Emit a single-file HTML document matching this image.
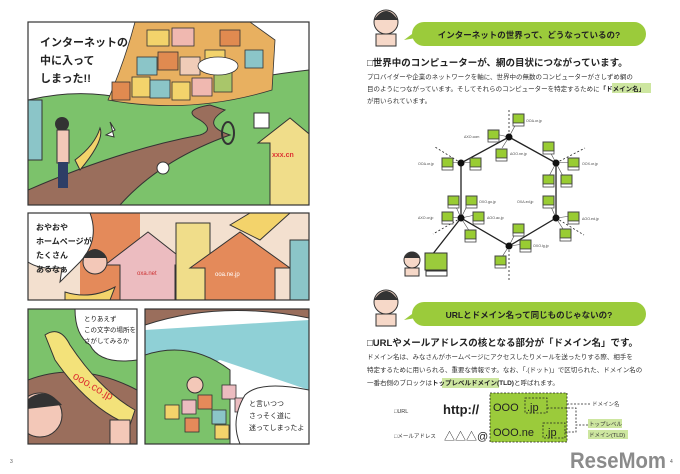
<!DOCTYPE html>
<html><head><meta charset="utf-8"><style>
html,body{margin:0;padding:0;background:#fff;width:680px;height:474px;overflow:hidden}
svg{display:block}
text{font-family:"Liberation Sans","Noto Sans CJK JP",sans-serif}
</style></head><body>
<svg width="680" height="474" viewBox="0 0 680 474" xmlns="http://www.w3.org/2000/svg">
<defs>
<clipPath id="p1"><rect x="28" y="22" width="281" height="183"/></clipPath>
<clipPath id="p2"><rect x="28" y="213" width="281" height="87"/></clipPath>
<clipPath id="p3"><rect x="28" y="309" width="109" height="135"/></clipPath>
<clipPath id="p4"><rect x="145" y="309" width="164" height="135"/></clipPath>
<g id="pc"><rect x="0" y="0" width="11" height="9" fill="#9c3" stroke="#444" stroke-width="1"/><rect x="0" y="9" width="11" height="3" fill="#fff" stroke="#444" stroke-width="0.8"/></g>
</defs>

<!-- Panel 1 -->
<g clip-path="url(#p1)">
<rect x="28" y="22" width="281" height="183" fill="#fff"/>
<path d="M28 100 Q90 85 150 105 Q220 80 309 70 L309 205 L28 205Z" fill="#7cc26b" stroke="#333" stroke-width="1"/>
<path d="M28 190 Q120 150 200 135 Q215 130 200 120 Q180 110 210 105 L225 110 Q200 125 230 135 Q160 160 120 205 L28 205Z" fill="#9a6e5c" stroke="#333" stroke-width="1"/>
<g stroke="#333" stroke-width="0.8">
<path d="M135 22 L250 22 L275 40 L272 90 Q190 115 108 100 Q125 60 135 22 Z" fill="#e8b060"/>
<rect x="112" y="82" width="18" height="18" fill="#e08a50"/><rect x="132" y="77" width="18" height="20" fill="#f3d36b"/>
<rect x="150" y="80" width="20" height="18" fill="#8bc5c8"/><rect x="172" y="82" width="18" height="18" fill="#f3d36b"/>
<rect x="192" y="78" width="20" height="18" fill="#f0b8b0"/><rect x="214" y="72" width="18" height="20" fill="#a9c66a"/>
<rect x="137" y="57" width="20" height="18" fill="#8bc5c8"/><rect x="158" y="52" width="20" height="18" fill="#e08a50"/>
<rect x="180" y="57" width="20" height="18" fill="#f0ccb8"/><rect x="205" y="50" width="20" height="18" fill="#f3d36b"/>
<rect x="147" y="30" width="22" height="16" fill="#f3d36b"/><rect x="172" y="28" width="22" height="18" fill="#f0b8b0"/>
<rect x="220" y="30" width="20" height="16" fill="#e08a50"/><rect x="245" y="50" width="18" height="18" fill="#8bc5c8"/>
<ellipse cx="218" cy="66" rx="20" ry="9" fill="#fff"/>
</g>
<path d="M258 143 L290 118 L320 143 L309 143 L309 205 L270 205 L270 143Z" fill="#f0dd8a" stroke="#333"/>
<text x="272" y="157" font-size="7" fill="#d33" font-weight="bold">xxx.cn</text>
<rect x="28" y="100" width="14" height="60" fill="#8bc5c8" stroke="#333"/>
<circle cx="163" cy="168" r="6" fill="#fff" stroke="#333"/>
<rect x="254" y="113" width="15" height="15" fill="#fff" stroke="#333"/>
<ellipse cx="228" cy="133" rx="6" ry="11" fill="none" stroke="#333" stroke-width="2"/>
<polygon points="110,122 115,130 106,135 114,137 111,125" fill="#fff" stroke="#333"/>
<circle cx="62" cy="124" r="7" fill="#333"/>
<rect x="57" y="130" width="12" height="33" fill="#f3c8b8" stroke="#333"/>
<rect x="58" y="162" width="10" height="26" fill="#2d3e66"/>
<path d="M75 160 Q95 145 100 128 Q105 140 80 170Z" fill="#f3d36b" stroke="#333"/>
</g>
<rect x="28" y="22" width="281" height="183" fill="none" stroke="#333" stroke-width="1.2"/>
<text x="40" y="46" font-size="11" font-weight="bold" fill="#222">インターネットの</text>
<text x="40" y="64" font-size="11" font-weight="bold" fill="#222">中に入って</text>
<text x="40" y="82" font-size="11" font-weight="bold" fill="#222">しまった!!</text>

<!-- Panel 2 -->
<g clip-path="url(#p2)">
<rect x="28" y="213" width="281" height="87" fill="#f3e0cf"/>
<path d="M80 300 L80 213 L140 213 L140 300Z" fill="#e48a5a"/>
<polygon points="120,300 120,265 105,265 148,232 190,265 175,265 175,300" fill="#ecbcc0" stroke="#333"/>
<rect x="176" y="223" width="34" height="77" fill="#f0dd8a" stroke="#333"/>
<polygon points="205,300 205,268 190,268 240,232 290,268 275,268 275,300" fill="#e48a5a" stroke="#333"/>
<polygon points="230,225 250,213 290,213 260,240" fill="#f3d36b" stroke="#333"/>
<rect x="290" y="240" width="20" height="60" fill="#8bc5c8" stroke="#333"/>
<text x="137" y="275" font-size="6" fill="#c33">oxa.net</text>
<text x="215" y="276" font-size="6" fill="#fff">ooa.ne.jp</text>
<path d="M28 213 L90 213 Q100 240 80 262 L60 282 L62 268 Q40 270 28 262Z" fill="#fff" stroke="#333"/>
<circle cx="95" cy="262" r="12" fill="#f3c8b8" stroke="#333"/>
<path d="M83 258 Q95 240 107 258Z" fill="#333"/>
<path d="M65 292 Q90 300 115 287 L110 300 L65 300Z" fill="#f3d36b" stroke="#333"/>
</g>
<rect x="28" y="213" width="281" height="87" fill="none" stroke="#333" stroke-width="1.2"/>
<g font-size="8" fill="#222" font-weight="bold">
<text x="36" y="230">おやおや</text><text x="36" y="244">ホームページが</text><text x="36" y="258">たくさん</text><text x="36" y="272">あるなぁ</text></g>

<!-- Panel 3 -->
<g clip-path="url(#p3)">
<rect x="28" y="309" width="109" height="135" fill="#7cc26b"/>
<path d="M28 380 Q80 360 137 390 L137 444 L28 444Z" fill="#9a6e5c" stroke="#333"/>
<path d="M75 309 L137 309 L137 360 Q100 365 90 345 Q75 335 75 309Z" fill="#fff" stroke="#333"/>
<path d="M45 335 Q60 325 70 345 Q100 390 135 410 L130 425 Q90 410 55 360Z" fill="#f3e27a" stroke="#333"/>
<circle cx="40" cy="415" r="22" fill="#f3c8b8" stroke="#333"/>
<path d="M18 410 Q40 380 62 405Z" fill="#333"/>
<rect x="110" y="420" width="20" height="24" fill="#f3c8b8" stroke="#333"/>
</g>
<rect x="28" y="309" width="109" height="135" fill="none" stroke="#333" stroke-width="1.2"/>
<text x="72" y="378" font-size="11" fill="#d33" transform="rotate(30 72 378)">ooo.co.jp</text>
<g font-size="6.5" fill="#222"><text x="84" y="321">とりあえず</text><text x="84" y="332">この文字の場所を</text><text x="84" y="343">さがしてみるか</text></g>

<!-- Panel 4 -->
<g clip-path="url(#p4)">
<rect x="145" y="309" width="164" height="135" fill="#fff"/>
<path d="M145 330 L309 320 L309 390 L220 360 L180 375 L145 360Z" fill="#8fd0d6"/>
<path d="M145 325 Q220 300 309 318 L309 309 L145 309Z" fill="#9a6e5c" stroke="#333"/>
<path d="M145 355 Q190 340 230 370 L230 444 L145 444Z" fill="#7cc26b" stroke="#333"/>
<g stroke="#333" stroke-width="0.8">
<rect x="165" y="405" width="14" height="14" fill="#f3d36b"/><rect x="182" y="400" width="14" height="14" fill="#ecbcc0"/>
<rect x="198" y="395" width="14" height="14" fill="#e48a5a"/><rect x="212" y="410" width="14" height="14" fill="#8bc5c8"/>
<rect x="185" y="418" width="14" height="14" fill="#e48a5a"/><rect x="215" y="425" width="14" height="14" fill="#f3d36b"/>
<rect x="222" y="385" width="14" height="14" fill="#ecbcc0"/><rect x="235" y="398" width="14" height="14" fill="#ecbcc0"/>
</g>
<path d="M245 395 Q260 380 309 390 L309 444 L240 444 Q230 420 245 395Z" fill="#fff" stroke="#333"/>
<circle cx="195" cy="385" r="8" fill="#f3c8b8" stroke="#333"/>
</g>
<rect x="145" y="309" width="164" height="135" fill="none" stroke="#333" stroke-width="1.2"/>
<g font-size="7" fill="#222"><text x="249" y="406">と言いつつ</text><text x="249" y="418">さっそく道に</text><text x="249" y="430">迷ってしまったよ</text></g>
<text x="10" y="463" font-size="5" fill="#555">3</text>

<!-- Right page -->
<circle cx="386" cy="22" r="12" fill="#f6d8c8" stroke="#333"/>
<path d="M374 20 Q386 2 398 20Z" fill="#333"/>
<rect x="376" y="34" width="20" height="12" fill="#f6d8c8" stroke="#333"/>
<rect x="412" y="22" width="234" height="24" rx="12" fill="#9bcb3b"/>
<polygon points="412,34 404,40 416,38" fill="#9bcb3b"/>
<text x="529" y="38" font-size="8.5" font-weight="bold" text-anchor="middle" fill="#222">インターネットの世界って、どうなっているの?</text>
<text x="367" y="66" font-size="9.5" font-weight="bold" fill="#222">□世界中のコンピューターが、網の目状につながっています。</text>
<rect x="612" y="83" width="39" height="10" fill="#cde6a0"/>
<g font-size="6.5" fill="#333">
<text x="367" y="79">プロバイダーや企業のネットワークを軸に、世界中の無数のコンピューターがさしずめ網の</text>
<text x="367" y="91">目のようにつながっています。そしてそれらのコンピューターを特定するために<tspan fill="#222" font-weight="bold">「ドメイン名」</tspan></text>
<text x="367" y="103">が用いられています。</text></g>

<!-- network -->
<g stroke="#222" stroke-width="1.3" fill="none">
<polygon points="509,137 556,163 556,218 509,246 461,218 461,163"/>
<line x1="461" y1="218" x2="432" y2="255"/>
</g>
<g stroke="#222" stroke-width="0.8" stroke-dasharray="2,2">
<line x1="509" y1="110" x2="509" y2="137"/><line x1="509" y1="246" x2="509" y2="280"/>
<line x1="461" y1="163" x2="435" y2="147"/><line x1="556" y1="163" x2="585" y2="148"/>
<line x1="461" y1="218" x2="433" y2="234"/><line x1="556" y1="218" x2="584" y2="235"/>
</g>
<g stroke="#444" stroke-width="0.6">
<line x1="509" y1="137" x2="518" y2="120"/><line x1="509" y1="137" x2="495" y2="134"/><line x1="509" y1="137" x2="502" y2="148"/>
<line x1="461" y1="163" x2="447" y2="162"/><line x1="461" y1="163" x2="475" y2="162"/>
<line x1="556" y1="163" x2="548" y2="148"/><line x1="556" y1="163" x2="571" y2="162"/><line x1="556" y1="163" x2="548" y2="178"/><line x1="556" y1="163" x2="564" y2="178"/>
<line x1="461" y1="218" x2="453" y2="200"/><line x1="461" y1="218" x2="470" y2="200"/><line x1="461" y1="218" x2="447" y2="217"/><line x1="461" y1="218" x2="475" y2="215"/><line x1="461" y1="218" x2="470" y2="232"/>
<line x1="556" y1="218" x2="548" y2="200"/><line x1="556" y1="218" x2="571" y2="216"/><line x1="556" y1="218" x2="565" y2="232"/>
<line x1="509" y1="246" x2="518" y2="228"/><line x1="509" y1="246" x2="524" y2="244"/><line x1="509" y1="246" x2="500" y2="260"/>
</g>
<g fill="#111">
<circle cx="509" cy="137" r="3.5"/><circle cx="556" cy="163" r="3.5"/><circle cx="556" cy="218" r="3.5"/>
<circle cx="509" cy="246" r="3.5"/><circle cx="461" cy="218" r="3.5"/><circle cx="461" cy="163" r="3.5"/></g>
<use href="#pc" x="513" y="114"/><use href="#pc" x="488" y="130"/><use href="#pc" x="496" y="149"/>
<use href="#pc" x="442" y="158"/><use href="#pc" x="470" y="158"/>
<use href="#pc" x="543" y="142"/><use href="#pc" x="568" y="158"/><use href="#pc" x="543" y="175"/><use href="#pc" x="561" y="175"/>
<use href="#pc" x="448" y="196"/><use href="#pc" x="466" y="196"/><use href="#pc" x="442" y="212"/><use href="#pc" x="473" y="212"/><use href="#pc" x="465" y="230"/>
<use href="#pc" x="543" y="196"/><use href="#pc" x="568" y="212"/><use href="#pc" x="560" y="229"/>
<use href="#pc" x="513" y="224"/><use href="#pc" x="520" y="240"/><use href="#pc" x="495" y="256"/>
<g font-size="3.6" fill="#444">
<text x="526" y="122">OOΔ.or.jp</text><text x="464" y="138">ΔXO.com</text><text x="510" y="155">ΔOO.ne.jp</text>
<text x="418" y="165">OOΔ.or.jp</text><text x="582" y="165">OOX.or.jp</text>
<text x="479" y="203">OXO.go.jp</text><text x="418" y="219">ΔXO.or.jp</text><text x="487" y="219">ΔOO.ac.jp</text>
<text x="517" y="203">OXΔ.ed.jp</text><text x="582" y="220">ΔOO.ed.jp</text><text x="533" y="247">OXO.lg.jp</text></g>
<circle cx="412" cy="260" r="8" fill="#f6d8c8" stroke="#333"/>
<path d="M404 258 Q412 246 420 258Z" fill="#333"/>
<rect x="405" y="268" width="14" height="8" fill="#f6d8c8" stroke="#333"/>
<rect x="425" y="253" width="22" height="17" fill="#9bcb3b" stroke="#333"/>
<rect x="426" y="271" width="21" height="5" fill="#fff" stroke="#333"/>

<!-- section 2 -->
<circle cx="386" cy="302" r="12" fill="#f6d8c8" stroke="#333"/>
<path d="M374 300 Q386 282 398 300Z" fill="#333"/>
<rect x="376" y="314" width="20" height="12" fill="#f6d8c8" stroke="#333"/>
<rect x="412" y="302" width="234" height="24" rx="12" fill="#9bcb3b"/>
<polygon points="412,314 404,320 416,318" fill="#9bcb3b"/>
<text x="529" y="318" font-size="8.5" font-weight="bold" text-anchor="middle" fill="#222">URLとドメイン名って同じものじゃないの?</text>
<text x="367" y="346" font-size="9.5" font-weight="bold" fill="#222">□URLやメールアドレスの核となる部分が「ドメイン名」です。</text>
<rect x="442" y="378" width="57" height="10" fill="#cde6a0"/>
<g font-size="6.5" fill="#333">
<text x="367" y="359">ドメイン名は、みなさんがホームページにアクセスしたりメールを送ったりする際、相手を</text>
<text x="367" y="372">特定するために用いられる、重要な情報です。なお、「.(ドット)」で区切られた、ドメイン名の</text>
<text x="367" y="385">一番右側のブロックは<tspan font-weight="bold" fill="#222">トップレベルドメイン(TLD)</tspan>と呼ばれます。</text></g>

<rect x="490" y="393" width="77" height="49" fill="#9bcb3b" stroke="#222" stroke-width="0.8" stroke-dasharray="2,1.5"/>
<rect x="525" y="398" width="22" height="15" fill="none" stroke="#222" stroke-width="0.8" stroke-dasharray="2,1.5"/>
<rect x="543" y="423" width="22" height="15" fill="none" stroke="#222" stroke-width="0.8" stroke-dasharray="2,1.5"/>
<g stroke="#222" stroke-width="0.8" stroke-dasharray="2,1.5" fill="none">
<line x1="567" y1="404" x2="590" y2="404"/><polyline points="547,408 576,408 576,425 590,425"/><polyline points="565,432 576,432 576,425"/></g>
<g font-size="5.5" fill="#333"><text x="394" y="413">□URL</text><text x="394" y="438">□メールアドレス</text><text x="592" y="406">ドメイン名</text></g>
<rect x="588" y="419" width="34" height="9" fill="#cde6a0"/><rect x="588" y="430" width="40" height="9" fill="#cde6a0"/>
<g font-size="5.5" fill="#333"><text x="589" y="426">トップレベル</text><text x="589" y="437">ドメイン(TLD)</text></g>
<text x="443" y="414" font-size="13" font-weight="bold" fill="#222">http://</text>
<text x="444" y="440" font-size="11" fill="#222">△△△@</text>
<text x="493" y="411" font-size="11" fill="#222">OOO</text><text x="527" y="411" font-size="11" fill="#222">.jp</text>
<text x="493" y="436" font-size="11" fill="#222">OOO.ne</text><text x="545" y="436" font-size="11" fill="#222">.jp</text>
<text x="570" y="468" font-size="22" font-weight="bold" fill="#777" opacity="0.85" textLength="96" lengthAdjust="spacingAndGlyphs">ReseMom</text>
<text x="670" y="463" font-size="5" fill="#555">4</text>
</svg>
</body></html>
